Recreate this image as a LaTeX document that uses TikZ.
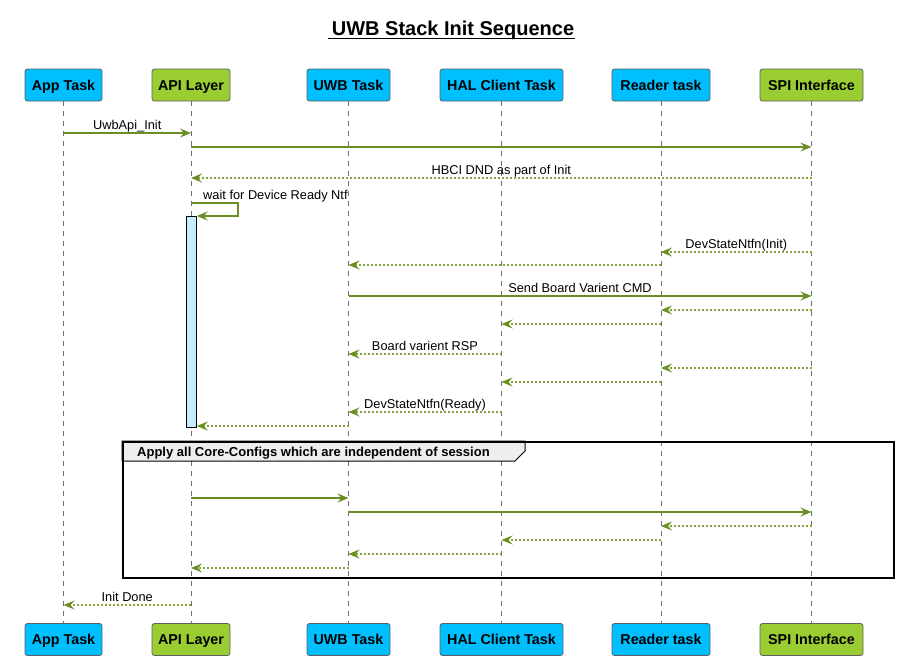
\documentclass[tikz,border=0pt]{standalone}
\usepackage{fontspec}
\setmainfont{Liberation Sans}
\usetikzlibrary{arrows.meta}
\definecolor{arr}{RGB}{107,142,35}
\definecolor{arrlight}{RGB}{130,165,60}
\definecolor{cyanbox}{RGB}{0,191,255}
\definecolor{greenbox}{RGB}{154,205,50}
\definecolor{boxline}{RGB}{95,95,95}
\definecolor{lifeline}{RGB}{110,110,110}
\definecolor{actfill}{RGB}{195,238,250}
\definecolor{tabfill}{RGB}{238,238,238}
\newcommand\seqmsg[5]{\draw[#1] (#2 |- 0,#4) -- (#3 |- 0,#4) node[midway,lbl,yshift=4pt]{#5};}
\begin{document}
\begin{tikzpicture}[x=1pt,y=-1pt,
  part/.style={draw=boxline, rounded corners=2.5pt, minimum height=32pt, inner sep=0pt, text height=10.3pt, text depth=0pt, font=\bfseries\fontsize{14.3}{16}\selectfont, line width=0.8pt},
  cpart/.style={part, fill=cyanbox},
  gpart/.style={part, fill=greenbox},
  life/.style={draw=lifeline, dash pattern=on 5pt off 5pt, line width=0.8pt},
  sync/.style={draw=arr, line width=1.3pt, -{Stealth[length=11pt,width=9pt,inset=4pt]}},
  reply/.style={draw=arrlight, line width=1.2pt, dash pattern=on 2pt off 2pt, -{Stealth[length=11pt,width=9pt,inset=4pt,color=arr]}},
  lbl/.style={font=\fontsize{12.8}{14}\selectfont, anchor=base, inner sep=0pt, text=black},
  grouplbl/.style={font=\bfseries\fontsize{13}{14}\selectfont, anchor=base west, inner sep=0pt}
]
\useasboundingbox (0,0) rectangle (898,659);
% title
\node[anchor=base, inner sep=0pt, font=\bfseries\fontsize{20}{22}\selectfont] (title) at (453,35.5) {UWB Stack Init Sequence};
\draw[line width=1pt] (328,38) -- (575,38);
% participants
\node[cpart, minimum width=77pt] (appT) at (63.5,85) {App Task};
\node[gpart, minimum width=78pt] (apiT) at (191,85) {API Layer};
\node[cpart, minimum width=83pt] (uwbT) at (348.5,85) {UWB Task};
\node[cpart, minimum width=123pt] (halT) at (501.5,85) {HAL Client Task};
\node[cpart, minimum width=98pt] (readT) at (661,85) {Reader task};
\node[gpart, minimum width=103pt] (spiT) at (811.5,85) {SPI Interface};
\node[cpart, minimum width=77pt] (appB) at (63.5,639.5) {App Task};
\node[gpart, minimum width=78pt] (apiB) at (191,639.5) {API Layer};
\node[cpart, minimum width=83pt] (uwbB) at (348.5,639.5) {UWB Task};
\node[cpart, minimum width=123pt] (halB) at (501.5,639.5) {HAL Client Task};
\node[cpart, minimum width=98pt] (readB) at (661,639.5) {Reader task};
\node[gpart, minimum width=103pt] (spiB) at (811.5,639.5) {SPI Interface};
% lifelines
\foreach \p in {app,api,uwb,hal,read,spi}{\draw[life] (\p T.south) -- (\p B.north);}
% activation
\node[draw=black, fill=actfill, line width=0.8pt, minimum width=10pt, minimum height=211pt, inner sep=0pt, anchor=north west] (act) at (186,216) {};
% messages
\seqmsg{sync}{appT}{apiT}{133}{UwbApi\_Init}
\seqmsg{sync}{apiT}{spiT}{147}{}
\seqmsg{reply}{spiT}{apiT}{178}{HBCI DND as part of Init}
\coordinate (selfturn) at (238,203);
\draw[sync] (apiT |- selfturn) -- (selfturn) |- (act.north east);
\node[lbl, anchor=base west] (selflbl) at (203,199.5) {wait for Device Ready Ntf};
\seqmsg{reply}{spiT}{readT}{252}{DevStateNtfn(Init)}
\seqmsg{reply}{readT}{uwbT}{265}{}
\seqmsg{sync}{uwbT}{spiT}{296}{Send Board Varient CMD}
\seqmsg{reply}{spiT}{readT}{310}{}
\seqmsg{reply}{readT}{halT}{324}{}
\seqmsg{reply}{halT}{uwbT}{354}{Board varient RSP}
\seqmsg{reply}{spiT}{readT}{368}{}
\seqmsg{reply}{readT}{halT}{382}{}
\seqmsg{reply}{halT}{uwbT}{412}{DevStateNtfn(Ready)}
\seqmsg{reply}{uwbT}{act.east}{426}{}
% group
\path[fill=tabfill, draw=black, line width=1pt] (122,441) -- (525,441) -- (525,451) -- (515,461) -- (122,461) -- cycle;
\node[draw=black, line width=1.5pt, minimum width=771pt, minimum height=136pt, inner sep=0pt, anchor=north west] (grp) at (122,441) {};
\node[grouplbl] (grplbl) at (137,456) {Apply all Core-Configs which are independent of session};
\seqmsg{sync}{apiT}{uwbT}{498}{}
\seqmsg{sync}{uwbT}{spiT}{512}{}
\seqmsg{reply}{spiT}{readT}{526}{}
\seqmsg{reply}{readT}{halT}{540}{}
\seqmsg{reply}{halT}{uwbT}{554}{}
\seqmsg{reply}{uwbT}{apiT}{568}{}
\seqmsg{reply}{apiT}{appT}{605}{Init Done}
\end{tikzpicture}
\end{document}
